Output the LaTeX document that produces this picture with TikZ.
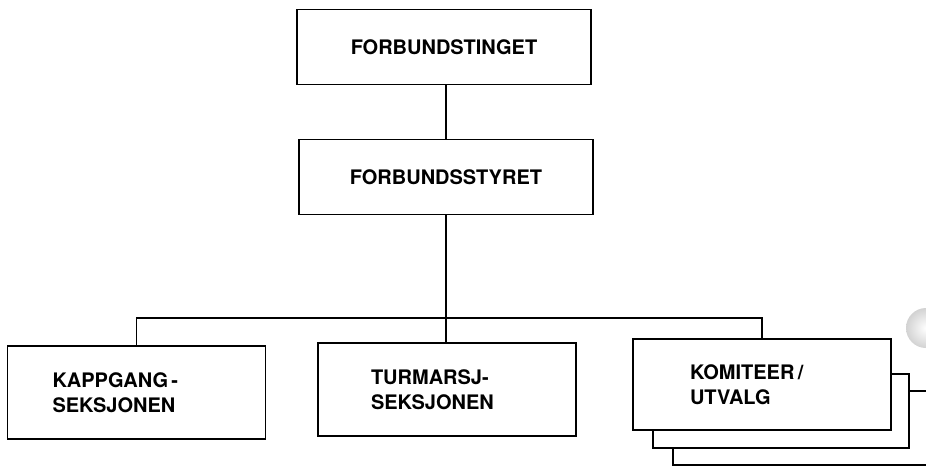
\documentclass[tikz,border=0pt]{standalone}
\usepackage{fontspec}
\setmainfont{TeX Gyre Heros}
\usetikzlibrary{shadings}
\begin{document}
\begin{tikzpicture}[x=1pt,y=-1pt,
  line width=1.4pt,
  txt/.style={font=\bfseries\fontsize{20}{25}\selectfont},
  topbox/.style={draw, fill=white, txt, minimum width=294pt, minimum height=75pt, inner sep=0pt},
  sect/.style={draw, fill=white, txt, align=left, minimum height=93pt, inner ysep=0pt, inner xsep=#1, text width=258pt-2*#1},
  backbox/.style={draw, fill=white, minimum width=256pt, minimum height=74pt, inner sep=0pt}]
\useasboundingbox (0,0) rectangle (926,467);
% punch hole artifact
\shade[inner color=white, outer color=gray!35] (926,328) circle (20pt);
% top boxes
\node[topbox] (ting) at (444,47) {FORBUNDSTINGET};
\node[topbox] (styre) at (446,177) {FORBUNDSSTYRET};
% bottom boxes
\node[sect=45pt] (kapp) at (136.5,392.5) {KAPPGANG\,-\\SEKSJONEN};
\node[sect=53pt] (turm) at (447,389.5) {TURMARSJ-\\SEKSJONEN};
\node[backbox] (back3) at (801,428) {};
\node[backbox] (back2) at (781,411) {};
\node[sect=57pt, minimum height=91pt] (kom) at (762,384.5) {KOMITEER\,/\\UTVALG};
% connectors
\coordinate (bar) at (446,318);
\draw (ting.south -| styre.north) -- (styre.north);
\draw (styre.south) -- (bar);
\draw (bar) -- (bar |- turm.north);
\draw (kapp.north) |- (bar) -| (kom.north);
\end{tikzpicture}
\end{document}
